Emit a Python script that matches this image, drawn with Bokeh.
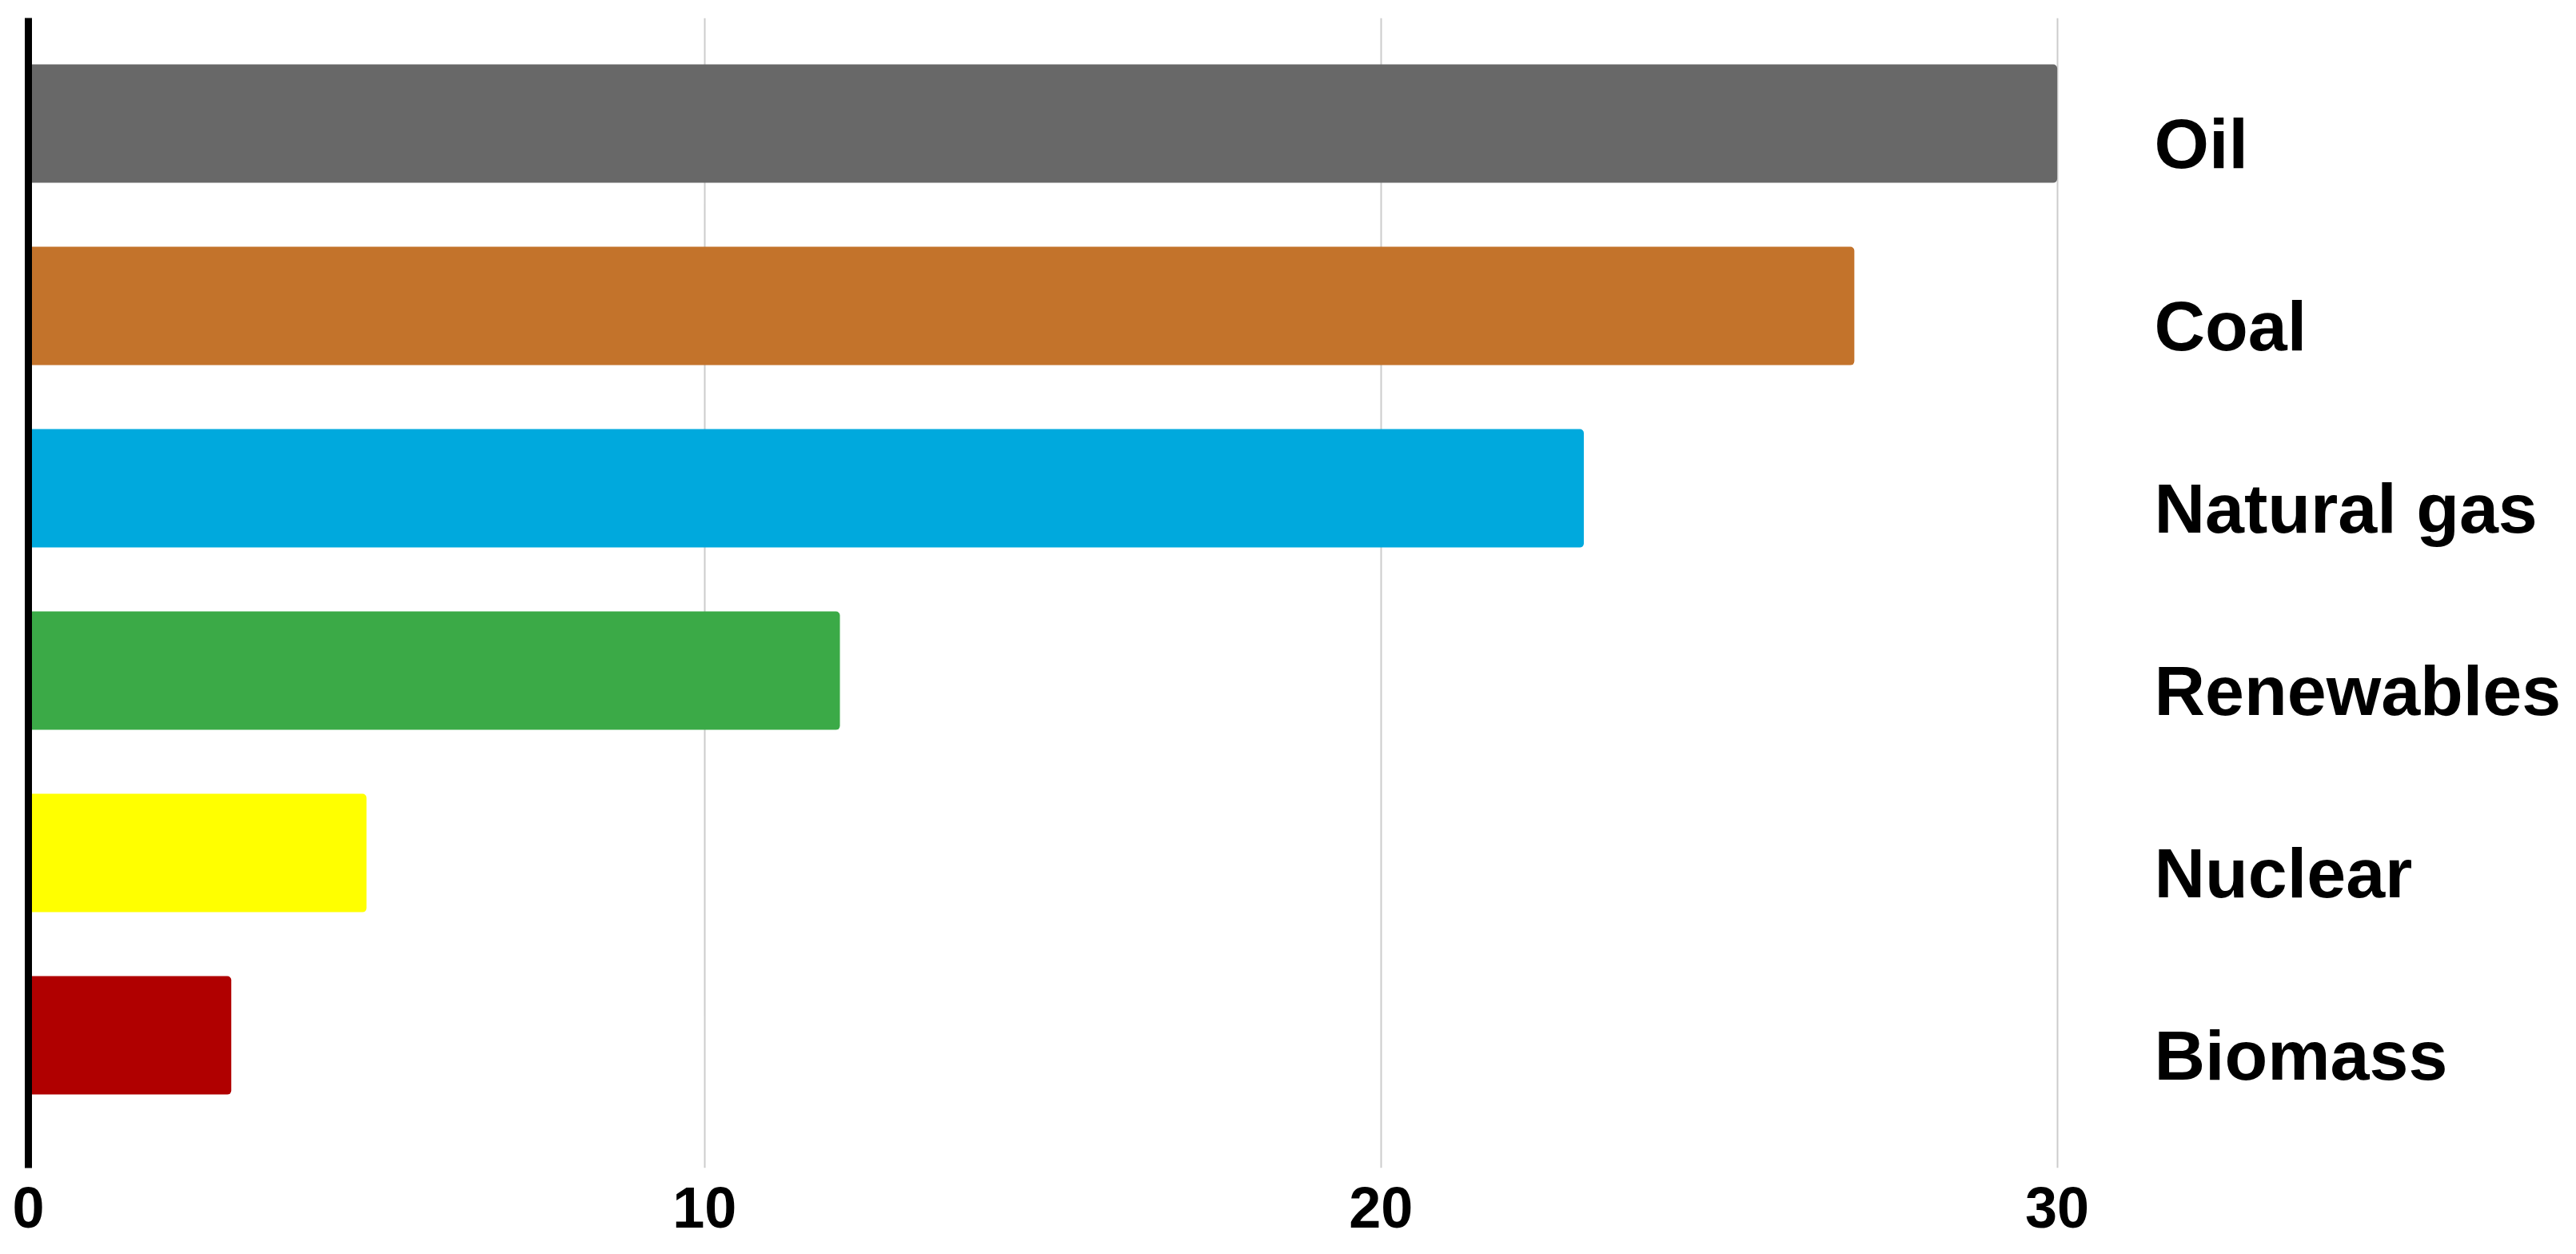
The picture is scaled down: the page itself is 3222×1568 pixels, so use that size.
from bokeh.plotting import figure
from bokeh.models import Range1d, FixedTicker, LinearAxis, ColumnDataSource
from bokeh.embed import file_html
from bokeh.resources import INLINE

categories = ["Oil", "Coal", "Natural gas", "Renewables", "Nuclear", "Biomass"]
values = [30, 27, 23, 12, 5, 3]
colors = ["#686868", "#C3732B", "#00A9DD", "#3BAA47", "#FFFF00", "#B00000"]
x_ticks = [0, 10, 20, 30]

n = len(categories)
ypos = [n - 1 - i for i in range(n)]  # Oil on top
label_shift = 0.11
label_ticks = [y - label_shift for y in ypos]

src = ColumnDataSource(dict(y=ypos, v=values, c=colors, cat=categories))

p = figure(frame_width=2563, frame_height=1438, output_backend="svg", toolbar_location=None,
           x_range=Range1d(0, 30.3), y_range=Range1d(-0.728, 5.579),
           x_axis_location="below", y_axis_location=None,
           min_border_left=35, min_border_top=22, min_border_right=616,
           min_border_bottom=90)
p.outline_line_color = None
p.background_fill_color = "white"

p.hbar(y="y", right="v", left=0, height=0.65, fill_color="c", line_color=None,
       border_radius=5, source=src)

# x axis
xa = p.xaxis[0]
xa.ticker = FixedTicker(ticks=x_ticks)
xa.axis_line_color = None
xa.major_tick_line_color = None
xa.minor_tick_line_color = None
xa.major_tick_out = 0
xa.major_tick_in = 0
xa.major_label_standoff = 24
xa.major_label_text_font = "Liberation Sans"
xa.major_label_text_font_style = "bold"
xa.major_label_text_font_size = "72px"
xa.major_label_text_color = "black"

# vertical grid
p.xgrid.ticker = FixedTicker(ticks=x_ticks[1:])
p.xgrid.grid_line_color = "#cccccc"
p.xgrid.grid_line_width = 2
p.ygrid.grid_line_color = None

# left axis: thick line only
la = LinearAxis(ticker=FixedTicker(ticks=[]))
la.axis_line_color = "black"
la.axis_line_width = 9
la.major_tick_line_color = None
la.minor_tick_line_color = None
la.major_tick_out = 0
la.minor_tick_out = 0
la.major_label_standoff = 0
la.major_label_text_font_size = "0px"
p.add_layout(la, "left")

# right axis: category labels
ra = LinearAxis(ticker=FixedTicker(ticks=label_ticks))
ra.major_label_overrides = {t: c for t, c in zip(label_ticks, categories)}
ra.axis_line_color = None
ra.major_tick_line_color = None
ra.minor_tick_line_color = None
ra.major_tick_out = 0
ra.minor_tick_out = 0
ra.major_label_standoff = 96
ra.major_label_text_font = "Liberation Sans"
ra.major_label_text_font_style = "bold"
ra.major_label_text_font_size = "88px"
ra.major_label_text_color = "black"
p.add_layout(ra, "right")

open("out.html", "w").write(file_html(p, INLINE))
